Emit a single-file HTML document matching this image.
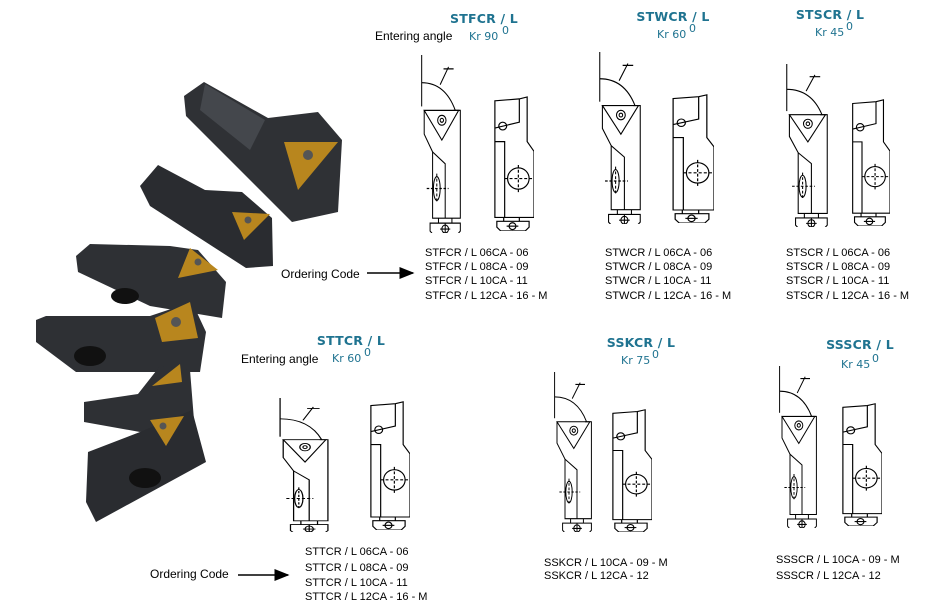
<!DOCTYPE html>
<html><head><meta charset="utf-8"><style>
html,body{margin:0;padding:0;background:#fff;}
body{width:937px;height:616px;overflow:hidden;position:relative;}
svg{position:absolute;left:0;top:0;}
.h{font-family:"DejaVu Sans","Liberation Sans",sans-serif;font-weight:bold;font-size:12.5px;fill:#1f7390;letter-spacing:0.2px;}
.k{font-family:"DejaVu Sans","Liberation Sans",sans-serif;font-size:11px;fill:#1f7390;}
.t{font-family:"Liberation Sans",sans-serif;font-size:11px;fill:#000;}
.e{font-family:"Liberation Sans",sans-serif;font-size:12px;fill:#000;}
</style></head><body>
<svg width="937" height="616" viewBox="0 0 937 616" xmlns="http://www.w3.org/2000/svg">
<defs>
<symbol id="L" viewBox="0 0 50 180" preserveAspectRatio="none">
<g fill="none" stroke="#000" stroke-width="1.2">
<path d="M2 0V52"/>
<path d="M2 28Q30 28 42 56"/>
<path d="M24 30L34 12M28 14H40"/>
<path d="M5 56H46L26 86Z" fill="#fff"/>
<circle cx="26" cy="66" r="5"/><circle cx="26" cy="66" r="2"/>
<path d="M5 56V80L15 98V165H48V56H40"/>
<path d="M15 98L30 110V165"/>
<ellipse cx="20" cy="135" rx="4" ry="12"/>
<path d="M8 135H34M20 120V150" stroke-dasharray="3 2"/>
<path d="M22 165V170M38 165V170"/>
<path d="M12 170H48V178L44 182H16L12 178Z"/>
<circle cx="30" cy="176" r="4"/><path d="M24 176H36M30 170V182"/>
</g></symbol>
<symbol id="R" viewBox="0 0 45 140" preserveAspectRatio="none">
<g fill="none" stroke="#000" stroke-width="1.2">
<path d="M5 6L30 4L38 2V48L45 58V126H5Z"/>
<path d="M30 4V28L5 34"/>
<path d="M5 48H15V126"/>
<circle cx="13" cy="32" r="4"/>
<ellipse cx="29" cy="86" rx="11" ry="11"/>
<path d="M15 86H43M29 72V100" stroke-dasharray="3 2"/>
<path d="M14 126V130M30 126V130"/>
<path d="M7 130H40V136L36 140H11L7 136Z"/>
<circle cx="23" cy="135" r="3.5"/><path d="M17 135H29"/>
</g></symbol>
<marker id="ar" markerWidth="10" markerHeight="8" refX="9" refY="4" orient="auto"><path d="M0 0L10 4L0 8Z" fill="#000"/></marker>
</defs>

<!-- photo of cartridges -->
<g>
<path d="M184 96L204 82L268 118L318 112L342 140L338 212L292 222L186 116Z" fill="#2f3135"/>
<path d="M205 84L265 120L250 150L200 110Z" fill="#44474c"/>
<path d="M284 142L338 142L298 190Z" fill="#b8861e"/><circle cx="308" cy="155" r="5" fill="#555"/>
<path d="M140 186L158 165L205 190L242 192L272 218L273 266L246 268L150 206Z" fill="#2a2c30"/>
<path d="M232 212L270 214L244 240Z" fill="#b8861e"/><circle cx="248" cy="220" r="3.5" fill="#555"/>
<path d="M76 256L90 244L170 246L198 250L226 282L222 318L150 306L78 272Z" fill="#2e3034"/>
<path d="M190 248L218 270L178 278Z" fill="#b8861e"/><circle cx="198" cy="262" r="3.5" fill="#555"/>
<ellipse cx="125" cy="296" rx="14" ry="8" fill="#111"/>
<path d="M36 320L46 316L150 316L192 302L206 332L200 372L76 372L36 342Z" fill="#2e3034"/>
<path d="M155 318L190 302L198 338L162 342Z" fill="#b8861e"/><circle cx="176" cy="322" r="5" fill="#555"/>
<ellipse cx="90" cy="356" rx="16" ry="10" fill="#111"/>
<path d="M84 402L138 394L160 366L190 370L194 420L140 432L84 422Z" fill="#2e3034"/>
<path d="M152 386L180 364L182 382Z" fill="#b8861e"/>
<path d="M88 452L140 432L192 410L206 462L96 522L86 502Z" fill="#2a2c30"/>
<path d="M150 420L184 416L166 446Z" fill="#b8861e"/><circle cx="163" cy="426" r="3.5" fill="#555"/>
<ellipse cx="145" cy="478" rx="16" ry="10" fill="#111"/>
</g>

<!-- headings -->
<text class="h" x="484" y="23" text-anchor="middle">STFCR / L</text>
<text class="e" x="375" y="40">Entering angle</text>
<text class="k" x="469" y="40">Kr 90</text><text class="k" x="502" y="34" font-size="8">0</text>
<text class="h" x="673" y="21" text-anchor="middle">STWCR / L</text>
<text class="k" x="657" y="38">Kr 60</text><text class="k" x="689" y="32" font-size="8">0</text>
<text class="h" x="830" y="19" text-anchor="middle">STSCR / L</text>
<text class="k" x="815" y="36">Kr 45</text><text class="k" x="846" y="30" font-size="8">0</text>
<text class="h" x="351" y="345" text-anchor="middle">STTCR / L</text>
<text class="e" x="241" y="363">Entering angle</text>
<text class="k" x="332" y="362">Kr 60</text><text class="k" x="364" y="356" font-size="8">0</text>
<text class="h" x="641" y="347" text-anchor="middle">SSKCR / L</text>
<text class="k" x="621" y="364">Kr 75</text><text class="k" x="652" y="358" font-size="8">0</text>
<text class="h" x="860" y="349" text-anchor="middle">SSSCR / L</text>
<text class="k" x="841" y="368">Kr 45</text><text class="k" x="872" y="362" font-size="8">0</text>

<!-- drawings -->
<use href="#L" x="420" y="55" width="42" height="178"/>
<use href="#R" x="490" y="95" width="44" height="136"/>
<use href="#L" x="598" y="52" width="44" height="172"/>
<use href="#R" x="668" y="93" width="46" height="130"/>
<use href="#L" x="785" y="64" width="44" height="163"/>
<use href="#R" x="848" y="98" width="42" height="128"/>
<use href="#L" x="278" y="398" width="52" height="134"/>
<use href="#R" x="366" y="400" width="44" height="130"/>
<use href="#L" x="553" y="372" width="40" height="160"/>
<use href="#R" x="608" y="408" width="44" height="124"/>
<use href="#L" x="778" y="366" width="40" height="162"/>
<use href="#R" x="838" y="402" width="44" height="124"/>

<!-- codes -->
<text class="t" x="425" y="256">STFCR / L 06CA  - 06</text>
<text class="t" x="425" y="270">STFCR / L 08CA  - 09</text>
<text class="t" x="425" y="284">STFCR / L 10CA  - 11</text>
<text class="t" x="425" y="299">STFCR / L 12CA  - 16 - M</text>
<text class="t" x="605" y="256">STWCR / L 06CA  - 06</text>
<text class="t" x="605" y="270">STWCR / L 08CA  - 09</text>
<text class="t" x="605" y="284">STWCR / L 10CA  - 11</text>
<text class="t" x="605" y="299">STWCR / L 12CA  - 16 - M</text>
<text class="t" x="786" y="256">STSCR / L 06CA  - 06</text>
<text class="t" x="786" y="270">STSCR / L 08CA  - 09</text>
<text class="t" x="786" y="284">STSCR / L 10CA  - 11</text>
<text class="t" x="786" y="299">STSCR / L 12CA  - 16 - M</text>
<text class="e" x="281" y="278">Ordering Code</text>
<path d="M367 273H413" stroke="#000" stroke-width="1.5" marker-end="url(#ar)"/>
<text class="t" x="305" y="555">STTCR / L 06CA  - 06</text>
<text class="t" x="305" y="571">STTCR / L 08CA  - 09</text>
<text class="t" x="305" y="586">STTCR / L 10CA  - 11</text>
<text class="t" x="305" y="600">STTCR / L 12CA  - 16 - M</text>
<text class="e" x="150" y="578">Ordering Code</text>
<path d="M238 575H288" stroke="#000" stroke-width="1.5" marker-end="url(#ar)"/>
<text class="t" x="544" y="566">SSKCR / L 10CA  - 09 - M</text>
<text class="t" x="544" y="579">SSKCR / L 12CA  - 12</text>
<text class="t" x="776" y="563">SSSCR / L 10CA  - 09 - M</text>
<text class="t" x="776" y="579">SSSCR / L 12CA  - 12</text>
</svg>
</body></html>
